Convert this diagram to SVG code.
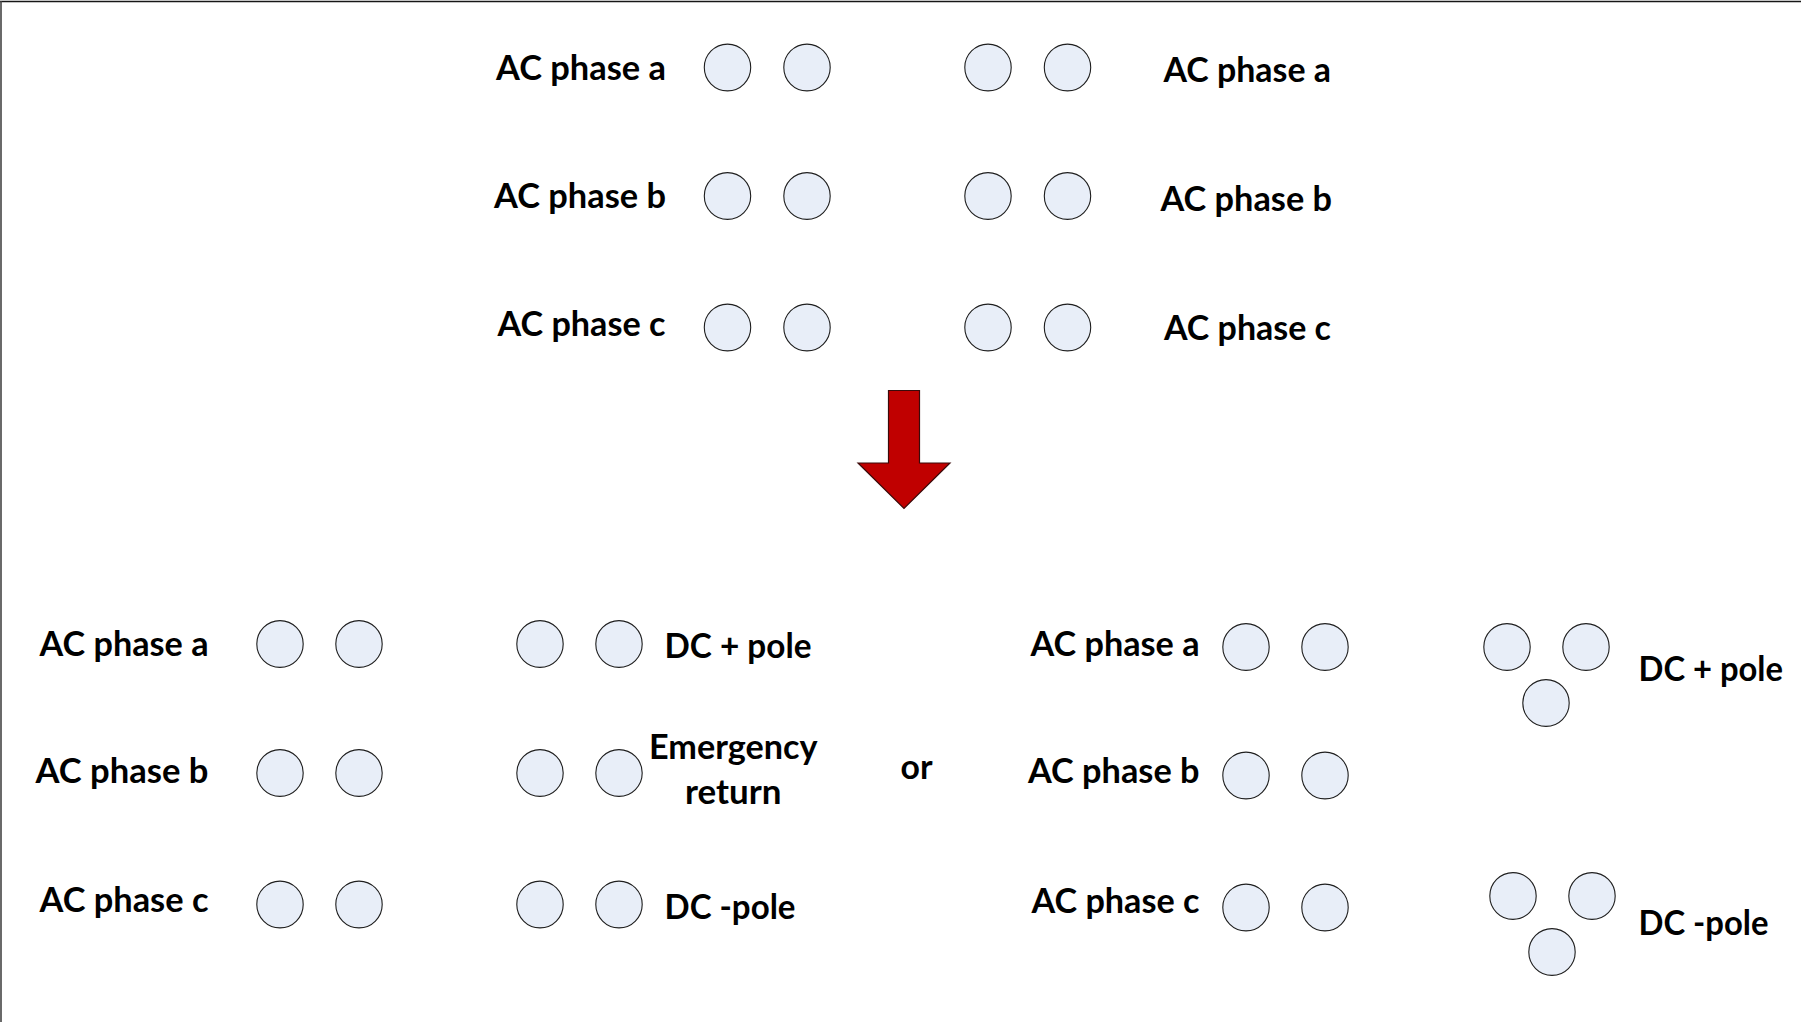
<svg xmlns="http://www.w3.org/2000/svg" width="1801" height="1022" viewBox="0 0 1801 1022">
  <style>
    .c { fill: #e8eef8; stroke: #1e1e1e; stroke-width: 1.1; }
    .t { font-family: Lato, "Open Sans", "Liberation Sans", sans-serif; font-weight: bold; font-size: 33.5px; fill: #000; }
    .frame { stroke-width: 1.6; fill: none; }
  </style>
  <defs>
    <ellipse id="cond" rx="23.2" ry="23.4" class="c"/>
  </defs>
  <rect x="0" y="0" width="1801" height="1022" fill="#ffffff"/>
  <line class="frame" x1="0" y1="1.5" x2="1801" y2="1.5" stroke="#161616"/>
  <line class="frame" x1="1" y1="1" x2="1" y2="1022" stroke="#444444"/>

  <!-- Top configuration -->
  <g id="top-ac-a-left">
    <text class="t" x="496" y="79.5" textLength="170" lengthAdjust="spacingAndGlyphs">AC phase a</text>
    <use href="#cond" x="727.5" y="67.5"/>
    <use href="#cond" x="807" y="67.5"/>
  </g>
  <g id="top-ac-b-left">
    <text class="t" x="494" y="207.5" textLength="172" lengthAdjust="spacingAndGlyphs">AC phase b</text>
    <use href="#cond" x="727.5" y="196"/>
    <use href="#cond" x="807" y="196"/>
  </g>
  <g id="top-ac-c-left">
    <text class="t" x="497.5" y="335.5" textLength="168" lengthAdjust="spacingAndGlyphs">AC phase c</text>
    <use href="#cond" x="727.5" y="327.5"/>
    <use href="#cond" x="807" y="327.5"/>
  </g>
  <g id="top-ac-a-right">
    <use href="#cond" x="988" y="67.5"/>
    <use href="#cond" x="1067.5" y="67.5"/>
    <text class="t" x="1163.5" y="82" textLength="167.5" lengthAdjust="spacingAndGlyphs">AC phase a</text>
  </g>
  <g id="top-ac-b-right">
    <use href="#cond" x="988" y="196"/>
    <use href="#cond" x="1067.5" y="196"/>
    <text class="t" x="1160.5" y="211" textLength="171.5" lengthAdjust="spacingAndGlyphs">AC phase b</text>
  </g>
  <g id="top-ac-c-right">
    <use href="#cond" x="988" y="327.5"/>
    <use href="#cond" x="1067.5" y="327.5"/>
    <text class="t" x="1164" y="339.5" textLength="167" lengthAdjust="spacingAndGlyphs">AC phase c</text>
  </g>

  <!-- Bottom-left configuration -->
  <g id="bl-ac-a">
    <text class="t" x="39.5" y="656" textLength="169" lengthAdjust="spacingAndGlyphs">AC phase a</text>
    <use href="#cond" x="280" y="644"/>
    <use href="#cond" x="359" y="644"/>
  </g>
  <g id="bl-ac-b">
    <text class="t" x="35.5" y="783" textLength="173" lengthAdjust="spacingAndGlyphs">AC phase b</text>
    <use href="#cond" x="280" y="773"/>
    <use href="#cond" x="359" y="773"/>
  </g>
  <g id="bl-ac-c">
    <text class="t" x="39.5" y="912" textLength="169" lengthAdjust="spacingAndGlyphs">AC phase c</text>
    <use href="#cond" x="280" y="904.5"/>
    <use href="#cond" x="359" y="904.5"/>
  </g>
  <g id="bl-dc-plus">
    <use href="#cond" x="540" y="644"/>
    <use href="#cond" x="619" y="644"/>
    <text class="t" x="664.5" y="657.5" textLength="147" lengthAdjust="spacingAndGlyphs">DC + pole</text>
  </g>
  <g id="bl-emergency-return">
    <use href="#cond" x="540" y="773"/>
    <use href="#cond" x="619" y="773"/>
    <text class="t" x="649" y="759" textLength="168.5" lengthAdjust="spacingAndGlyphs">Emergency</text>
    <text class="t" x="685" y="804" textLength="96.5" lengthAdjust="spacingAndGlyphs">return</text>
  </g>
  <g id="bl-dc-minus">
    <use href="#cond" x="540" y="904.5"/>
    <use href="#cond" x="619" y="904.5"/>
    <text class="t" x="664.5" y="918.5" textLength="131" lengthAdjust="spacingAndGlyphs">DC -pole</text>
  </g>

  <g id="or-label">
    <text class="t" x="900.5" y="779" textLength="32" lengthAdjust="spacingAndGlyphs">or</text>
  </g>

  <!-- Bottom-right configuration -->
  <g id="br-ac-a">
    <text class="t" x="1030.5" y="656" textLength="169" lengthAdjust="spacingAndGlyphs">AC phase a</text>
    <use href="#cond" x="1246" y="647"/>
    <use href="#cond" x="1325" y="647"/>
  </g>
  <g id="br-ac-b">
    <text class="t" x="1028" y="783" textLength="171.5" lengthAdjust="spacingAndGlyphs">AC phase b</text>
    <use href="#cond" x="1246" y="775.5"/>
    <use href="#cond" x="1325" y="775.5"/>
  </g>
  <g id="br-ac-c">
    <text class="t" x="1031.5" y="912.5" textLength="168" lengthAdjust="spacingAndGlyphs">AC phase c</text>
    <use href="#cond" x="1246" y="907.5"/>
    <use href="#cond" x="1325" y="907.5"/>
  </g>
  <g id="br-dc-plus">
    <use href="#cond" x="1507" y="647"/>
    <use href="#cond" x="1586" y="647"/>
    <use href="#cond" x="1546" y="703"/>
    <text class="t" x="1638.5" y="681" textLength="144.5" lengthAdjust="spacingAndGlyphs">DC + pole</text>
  </g>
  <g id="br-dc-minus">
    <use href="#cond" x="1513" y="896"/>
    <use href="#cond" x="1592" y="896"/>
    <use href="#cond" x="1552" y="952"/>
    <text class="t" x="1638.5" y="934.5" textLength="130" lengthAdjust="spacingAndGlyphs">DC -pole</text>
  </g>

  <g id="connectors">
    <polygon id="transition-arrow" points="888.5,390.5 919.5,390.5 919.5,463 950,463 904,508.5 858,463 888.5,463" fill="#c00000" stroke="#3a0a0a" stroke-width="1.2" stroke-linejoin="miter"/>
  </g>
</svg>
